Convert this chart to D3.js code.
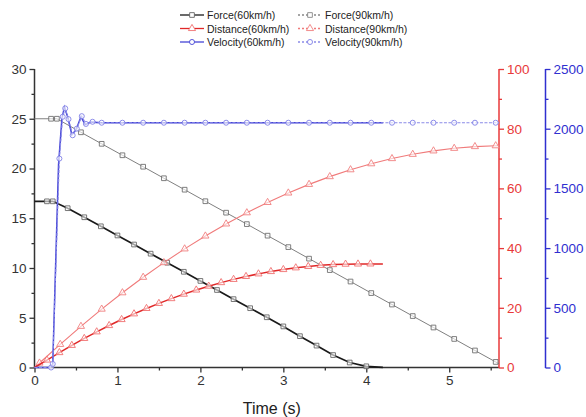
<!DOCTYPE html>
<html>
<head>
<meta charset="utf-8">
<script src="https://cdn.jsdelivr.net/npm/d3@7"></script>
<style>
  body { margin: 0; background: #fff; }
  svg { font-family: "Liberation Sans", Arial, sans-serif; }
</style>
</head>
<body>
<svg width="586" height="417"></svg>
<script>
// Time values (s) for each series
const T_F60 = [0, 0.15, 0.22, 0.4, 0.6, 0.8, 1.0, 1.2, 1.4, 1.6, 1.8, 2.0, 2.2, 2.4, 2.6, 2.8, 3.0, 3.2, 3.4, 3.6, 3.8, 4.0, 4.2];
const F60 = [16.7, 16.7, 16.7, 16.01, 15.10, 14.19, 13.27, 12.36, 11.44, 10.53, 9.62, 8.70, 7.79, 6.87, 5.96, 5.05, 4.13, 3.15, 2.2, 1.25, 0.5, 0.12, 0.02];

const T_F90 = [0, 0.2, 0.27, 0.56, 0.81, 1.06, 1.31, 1.56, 1.81, 2.06, 2.31, 2.56, 2.81, 3.06, 3.31, 3.56, 3.81, 4.06, 4.31, 4.56, 4.81, 5.06, 5.31, 5.56, 5.6];
const F90 = [25, 25, 25, 23.64, 22.48, 21.33, 20.18, 19.02, 17.87, 16.71, 15.56, 14.41, 13.25, 12.10, 10.94, 9.79, 8.64, 7.48, 6.33, 5.17, 4.02, 2.87, 1.71, 0.56, 0.37];

const T_D60 = [0, 0.15, 0.3, 0.45, 0.6, 0.75, 0.9, 1.05, 1.2, 1.35, 1.5, 1.65, 1.8, 1.95, 2.1, 2.25, 2.4, 2.55, 2.7, 2.85, 3.0, 3.15, 3.3, 3.45, 3.6, 3.75, 3.9, 4.05, 4.2];
const D60 = [0, 2.5, 5.0, 7.42, 9.74, 11.95, 14.06, 16.07, 17.98, 19.78, 21.48, 23.08, 24.57, 25.96, 27.25, 28.44, 29.52, 30.50, 31.37, 32.15, 32.82, 33.39, 33.85, 34.22, 34.48, 34.62, 34.68, 34.7, 34.7];

const T_D90 = [0, 0.06, 0.31, 0.56, 0.81, 1.06, 1.31, 1.56, 1.81, 2.06, 2.31, 2.56, 2.81, 3.06, 3.31, 3.56, 3.81, 4.06, 4.31, 4.56, 4.81, 5.06, 5.31, 5.56, 5.6];
const D90 = [0, 1.5, 7.75, 13.8, 19.56, 25.04, 30.23, 35.13, 39.74, 44.06, 48.10, 51.84, 55.30, 58.47, 61.35, 63.94, 66.25, 68.26, 69.99, 71.42, 72.57, 73.43, 74.01, 74.29, 74.31];

const T_V60 = [0, 0.2, 0.22, 0.29, 0.33, 0.36, 0.4, 0.45, 0.5, 0.56, 0.61, 0.68, 0.8, 4.2];
const V60 = [0, 0, 30, 1700, 2080, 2180, 2100, 1950, 1990, 2100, 2035, 2055, 2050, 2050];

const T_V90 = [0, 0.2, 0.22, 0.3, 0.34, 0.37, 0.41, 0.46, 0.51, 0.57, 0.62, 0.7, 0.81, 1.06, 1.31, 1.56, 1.81, 2.06, 2.31, 2.56, 2.81, 3.06, 3.31, 3.56, 3.81, 4.06, 4.31, 4.56, 4.81, 5.06, 5.31, 5.56, 5.6];
const V90 = [0, 0, 30, 1750, 2100, 2170, 2080, 1945, 2000, 2105, 2040, 2058, 2050, 2050, 2050, 2050, 2050, 2050, 2050, 2050, 2050, 2050, 2050, 2050, 2050, 2050, 2050, 2050, 2050, 2050, 2050, 2050, 2050];

// Axis ticks
const X_TICKS = [0, 1, 2, 3, 4, 5];
const X_MINOR = [0.5, 1.5, 2.5, 3.5, 4.5, 5.5];
const F_TICKS = [0, 5, 10, 15, 20, 25, 30];
const F_MINOR = [2.5, 7.5, 12.5, 17.5, 22.5, 27.5];
const D_TICKS = [0, 20, 40, 60, 80, 100];
const D_MINOR = [10, 30, 50, 70, 90];
const V_TICKS = [0, 500, 1000, 1500, 2000, 2500];
const V_MINOR = [250, 750, 1250, 1750, 2250];

const LEGEND = ["Force(60km/h)", "Force(90km/h)", "Distance(60km/h)", "Distance(90km/h)", "Velocity(60km/h)", "Velocity(90km/h)"];

// Chart constants
const svg = d3.select("svg");
const plotLeft = 34.5, plotRight = 499, plotTop = 69, plotBottom = 367.5, blueX = 545.5;

const x = d3.scaleLinear().domain([0, 5.6]).range([plotLeft, plotRight]);
const yF = d3.scaleLinear().domain([0, 30]).range([plotBottom, plotTop]);
const yD = d3.scaleLinear().domain([0, 100]).range([plotBottom, plotTop]);
const yV = d3.scaleLinear().domain([0, 2500]).range([plotBottom, plotTop]);

const RED = "#e8393a", BLUE = "#2f2fd0", AXIS = "#333";

// Axes
function drawAxis(axisFn, scale, major, minor, pos, colour) {
    const g = svg.append("g").attr("transform", pos);
    g.append("g").call(axisFn(scale).tickValues(minor).tickSize(3).tickFormat(""));
    g.append("g").call(axisFn(scale).tickValues(major).tickSize(5).tickPadding(3).tickFormat((d) => String(d)));
    g.selectAll("path, line").attr("stroke", colour).attr("stroke-width", 1.3);
    g.selectAll("text").attr("fill", colour).style("font-size", "13.5px").attr("font-family", null);
    g.selectAll(".domain").remove();
    return g;
}

function axisLine(x1, y1, x2, y2, colour) {
    svg.append("line").attr("x1", x1).attr("y1", y1).attr("x2", x2).attr("y2", y2)
        .attr("stroke", colour).attr("stroke-width", 1.5);
}

drawAxis(d3.axisBottom, x, X_TICKS, X_MINOR, `translate(0,${plotBottom})`, AXIS);
drawAxis(d3.axisLeft, yF, F_TICKS, F_MINOR, `translate(${plotLeft},0)`, AXIS);
drawAxis(d3.axisRight, yD, D_TICKS, D_MINOR, `translate(${plotRight},0)`, RED);
drawAxis(d3.axisRight, yV, V_TICKS, V_MINOR, `translate(${blueX},0)`, BLUE);
axisLine(plotLeft, plotBottom, plotRight, plotBottom, AXIS);
axisLine(plotLeft, plotTop, plotLeft, plotBottom, AXIS);
axisLine(plotRight, plotTop, plotRight, plotBottom + 0.5, RED);
axisLine(blueX, plotTop, blueX, plotBottom + 0.5, BLUE);

svg.append("text")
    .attr("x", (plotLeft + plotRight) / 2 + 5).attr("y", 414)
    .attr("text-anchor", "middle")
    .style("font-size", "16px").attr("fill", "#222")
    .text("Time (s)");

// Marker shapes
const square = d3.symbol().type(d3.symbolSquare).size(22);
const triangle = d3.symbol().type(d3.symbolTriangle).size(22);
const circle = d3.symbol().type(d3.symbolCircle).size(20);

function drawSeries(ts, vs, yScale, style) {
    const pts = ts.map((t, i) => [t, vs[i]]);
    const line = d3.line().x((d) => x(d[0])).y((d) => yScale(d[1]));
    svg.append("path")
        .datum(pts)
        .attr("fill", "none")
        .attr("stroke", style.colour)
        .attr("stroke-width", style.width)
        .attr("stroke-dasharray", style.dash || null)
        .attr("d", line);
    if (style.marker) {
        svg.append("g")
            .selectAll("path")
            .data(pts.slice(1, -1))
            .enter()
            .append("path")
            .attr("d", style.marker)
            .attr("transform", (d) => `translate(${x(d[0])},${yScale(d[1])})`)
            .attr("fill", "white")
            .attr("fill-opacity", 0.6)
            .attr("stroke", style.markerColour)
            .attr("stroke-width", 0.9);
    }
}

// Render chart
drawSeries(T_F90, F90, yF, { colour: "#808080", width: 1, marker: square, markerColour: "#707070" });
drawSeries(T_F60, F60, yF, { colour: "#1a1a1a", width: 1.7, marker: square, markerColour: "#666" });
drawSeries(T_D90, D90, yD, { colour: "#f07a7a", width: 1.1, marker: triangle, markerColour: "#f08080" });
drawSeries(T_D60, D60, yD, { colour: "#e02828", width: 1.5, marker: triangle, markerColour: "#f07070" });
drawSeries(T_V60, V60, yV, { colour: "#4545d6", width: 1.5 });
drawSeries(T_V90, V90, yV, { colour: "#8a8ae8", width: 1.1, dash: "3,1.5", marker: circle, markerColour: "#8080e6" });

// Legend
const legendStyles = [
    { colour: "#1a1a1a", dash: null, marker: square, mc: "#666" },
    { colour: "#888", dash: "2,2", marker: square, mc: "#888" },
    { colour: "#e02828", dash: null, marker: triangle, mc: "#f07070" },
    { colour: "#f07a7a", dash: "2,2", marker: triangle, mc: "#f08080" },
    { colour: "#4545d6", dash: null, marker: circle, mc: "#4545d6" },
    { colour: "#8a8ae8", dash: "2,2", marker: circle, mc: "#8080e6" }
];
const legend = svg.append("g");
LEGEND.forEach((name, i) => {
    const col = i % 2, row = Math.floor(i / 2);
    const lx = col === 0 ? 180 : 298;
    const ly = 15 + row * 13.5;
    const s = legendStyles[i];
    legend.append("line")
        .attr("x1", lx).attr("x2", lx + 24).attr("y1", ly).attr("y2", ly)
        .attr("stroke", s.colour).attr("stroke-width", 1.3)
        .attr("stroke-dasharray", s.dash);
    legend.append("path")
        .attr("d", s.marker)
        .attr("transform", `translate(${lx + 12},${ly})`)
        .attr("fill", "white").attr("stroke", s.mc).attr("stroke-width", 0.9);
    legend.append("text")
        .attr("x", lx + 27).attr("y", ly + 4)
        .style("font-size", "10.5px").attr("fill", "#222")
        .text(name);
});
</script>
</body>
</html>
